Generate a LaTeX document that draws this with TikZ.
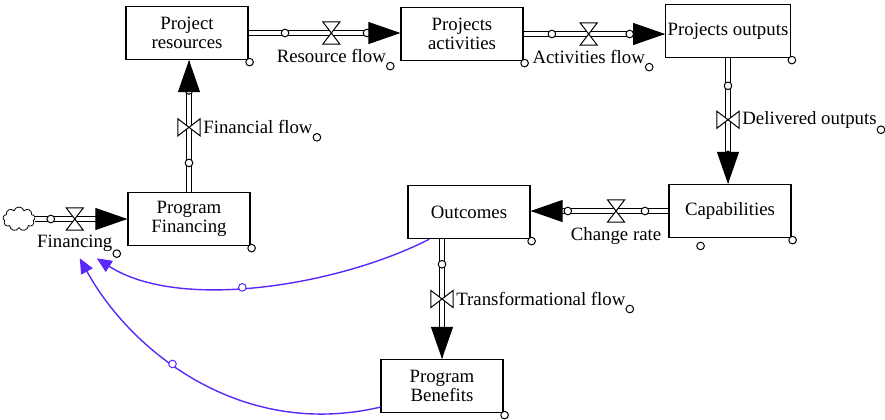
\documentclass[tikz,border=0pt]{standalone}
\usepackage{fontspec}
\setmainfont{Liberation Serif}
\usetikzlibrary{positioning}
\usetikzlibrary{calc}
\usetikzlibrary{arrows.meta}
\usetikzlibrary{shapes.symbols}
\definecolor{linkcol}{RGB}{90,40,250}
\tikzset{
	every node/.style={font=\fontsize{9.4}{9.8}\selectfont},
	stock/.style={draw, fill=white, line width=0.6pt, minimum width=61pt, minimum height=26.5pt, align=center, inner sep=1pt},
	pipe/.style={draw, double=white, double distance=2.2pt, line width=0.55pt, shorten >=15pt},
	flowhead/.style={-{Triangle[length=16pt,width=11pt]}, line width=0.5pt},
	dot/.style={circle, draw, fill=white, line width=0.5pt, inner sep=0pt, minimum size=3.8pt},
	flowlabel/.style={inner sep=1pt},
	link/.style={linkcol, line width=0.7pt, -{Triangle[length=7.5pt,width=6.5pt]}},
	valve/.pic={\draw[fill=white, line width=0.5pt] (-4.3pt,-5.6pt) -- (4.3pt,-5.6pt) -- (-4.3pt,5.6pt) -- (4.3pt,5.6pt) -- cycle;},
}

\begin{document}
\begin{tikzpicture}[x=0.5pt, y=-0.5pt]
	\useasboundingbox (0,0) rectangle (885,419);

	% stocks..........................
	\node[stock] (pr) at (187,33) {Project\\resources};
	\node[stock] (pa) at (462,34) {Projects\\activities};
	\node[stock] (po) at (728,31) {Projects outputs};
	\node[stock] (pf) at (189,219) {Program\\Financing};
	\node[stock] (oc) at (469,212) {Outcomes};
	\node[stock] (cap) at (730,211) {Capabilities};
	\node[stock] (pb) at (442,386) {Program\\Benefits};
	\node[cloud, draw, cloud puffs=9, aspect=1.4, line width=0.4pt, minimum width=16pt, minimum height=12pt, inner sep=0pt] (src) at (19,219) {};
	\foreach \s in {pr,pa,po,pf,oc,cap,pb}
		\node[dot] at ($(\s.south east)+(1,2)$) {};

	% Financing.......................
	\draw[pipe] (src.east) -- (src.east -| pf.west) coordinate[pos=.17] (fn1) coordinate[pos=.43] (fnv);
	\node[dot] at (fn1) {};
	\draw[flowhead] ($(src.east -| pf.west)+(-1,0)$) -- (src.east -| pf.west);
	\pic at (fnv) {valve};
	\node[flowlabel, below=7pt of fnv] (fnl) {Financing};
	\node[dot] at ($(fnl.east)+(2,10)$) {};

	% Financial flow..................
	\draw[pipe] (pf.north) -- (pf.north |- pr.south) coordinate[pos=.22] (ff1) coordinate[pos=.49] (ffv) coordinate[pos=.77] (ff2);
	\node[dot] at (ff1) {};
	\node[dot] at (ff2) {};
	\draw[flowhead] ($(pf.north |- pr.south)+(0,1)$) -- (pf.north |- pr.south);
	\pic[rotate=90] at (ffv) {valve};
	\node[flowlabel, right=6pt of ffv] (ffl) {Financial flow};
	\node[dot] at ($(ffl.east)+(2,10)$) {};

	% Resource flow...................
	\draw[pipe] (pr.east) -- (pr.east -| pa.west) coordinate[pos=.24] (rf1) coordinate[pos=.545] (rfv) coordinate[pos=.78] (rf2);
	\node[dot] at (rf1) {};
	\node[dot] at (rf2) {};
	\draw[flowhead] ($(pr.east -| pa.west)+(-1,0)$) -- (pr.east -| pa.west);
	\pic at (rfv) {valve};
	\node[flowlabel, below=7pt of rfv] (rfl) {Resource flow};
	\node[dot] at ($(rfl.east)+(2,10)$) {};

	% Activities flow.................
	\draw[pipe] (pa.east) -- (pa.east -| po.west) coordinate[pos=.2] (af1) coordinate[pos=.46] (afv) coordinate[pos=.75] (af2);
	\node[dot] at (af1) {};
	\node[dot] at (af2) {};
	\draw[flowhead] ($(pa.east -| po.west)+(-1,0)$) -- (pa.east -| po.west);
	\pic at (afv) {valve};
	\node[flowlabel, below=7pt of afv] (afl) {Activities flow};
	\node[dot] at ($(afl.east)+(2,10)$) {};

	% Delivered outputs...............
	\draw[pipe] (po.south) -- (po.south |- cap.north) coordinate[pos=.22] (do1) coordinate[pos=.49] (dov) coordinate[pos=.77] (do2);
	\node[dot] at (do1) {};
	\node[dot] at (do2) {};
	\draw[flowhead] ($(po.south |- cap.north)+(0,-1)$) -- (po.south |- cap.north);
	\pic[rotate=90] at (dov) {valve};
	\node[flowlabel, right=6pt of dov] (dol) {Delivered outputs};
	\node[dot] at ($(dol.east)+(2,10)$) {};

	% Change rate.....................
	\draw[pipe] (cap.west) -- (cap.west -| oc.east) coordinate[pos=.17] (cr1) coordinate[pos=.38] (crv) coordinate[pos=.73] (cr2);
	\node[dot] at (cr1) {};
	\node[dot] at (cr2) {};
	\draw[flowhead] ($(cap.west -| oc.east)+(1,0)$) -- (cap.west -| oc.east);
	\pic at (crv) {valve};
	\node[flowlabel, below=7pt of crv] (crl) {Change rate};
	\node[dot] at ($(crl.east)+(37,10)$) {};

	% Transformational flow...........
	\draw[pipe] (pb.north |- oc.south) -- (pb.north) coordinate[pos=.21] (tf1) coordinate[pos=.5] (tfv);
	\node[dot] at (tf1) {};
	\draw[flowhead] ($(pb.north)+(0,-1)$) -- (pb.north);
	\pic[rotate=90] at (tfv) {valve};
	\node[flowlabel, right=6pt of tfv] (tfl) {Transformational flow};
	\node[dot] at ($(tfl.east)+(2,10)$) {};

	% links back to Financing.........
	\draw[link] ($(oc.south west)+(22,0)$) .. controls (340,285) and (180,312) .. ($(fnl.south)+(22,4)$) node[dot, draw=linkcol, pos=.55] {};
	\draw[link] ($(pb.south west)+(0,-6)$) .. controls (240,440) and (130,350) .. ($(fnl.south)+(5,4)$) node[dot, draw=linkcol, pos=.58] {};

\end{tikzpicture}
\end{document}
